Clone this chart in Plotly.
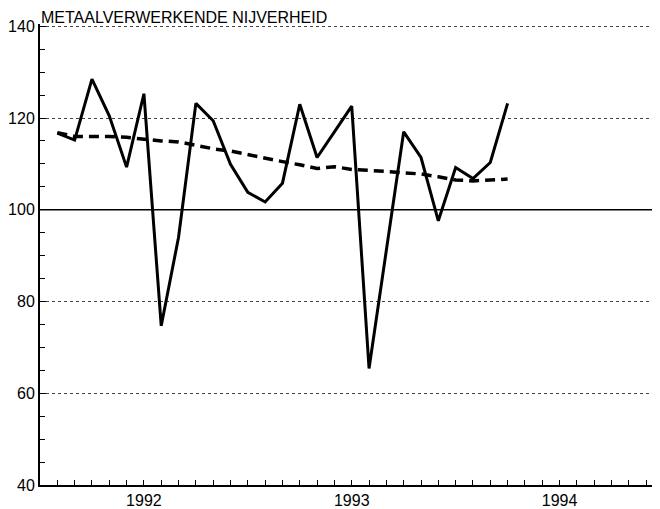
import plotly.graph_objects as go

# Months Jan 1992 .. Mar 1994 (points plotted at month end)
months = [f"{y}-{m:02d}" for y in (1992, 1993) for m in range(1, 13)] + ["1994-01", "1994-02", "1994-03"]
month_pos = list(range(1, len(months) + 1))  # months since 1 Jan 1992

production = [116.7, 115.2, 128.5, 120.5, 109.3, 125.3, 74.7, 94.0, 123.2, 119.4,
              109.9, 103.8, 101.7, 105.8, 123.0, 111.4, 117.0, 122.6, 65.4, 91.0,
              117.0, 111.4, 97.6, 109.2, 106.8, 110.3, 123.2]
trend = [116.8, 116.0, 116.0, 116.0, 115.8, 115.4, 115.0, 114.8, 114.0, 113.3,
         112.8, 112.0, 111.2, 110.5, 109.8, 109.0, 109.4, 108.8, 108.6, 108.3,
         108.0, 107.8, 107.2, 106.5, 106.3, 106.5, 106.7]

year_labels = ["1992", "1993", "1994"]
year_centers = [6, 18, 30]
year_bounds = [12, 24]
y_ticks = [40, 60, 80, 100, 120, 140]
baseline = 100
title = "METAALVERWERKENDE NIJVERHEID"

FONT = "Liberation Sans, Arial, sans-serif"

# page body has an 8px margin, so the figure is sized to fit the 660x509 window
W, H = 652, 501

fig = go.Figure()
fig.add_trace(go.Scatter(x=month_pos, y=trend, mode="lines",
                         line=dict(color="black", width=3.5, dash="10px,6px"),
                         showlegend=False, hoverinfo="skip"))
fig.add_trace(go.Scatter(x=month_pos, y=production, mode="lines",
                         line=dict(color="black", width=3),
                         showlegend=False, hoverinfo="skip"))
fig.add_hline(y=baseline, line=dict(color="black", width=1.5))

fig.update_layout(
    width=W, height=H,
    margin=dict(l=28, r=0, t=16, b=23),
    paper_bgcolor="white", plot_bgcolor="white",
    font=dict(family=FONT, size=16, color="black"),
    title=dict(text=title, x=0, xref="paper", xanchor="left",
               y=1 - 9.5 / H, yref="container", yanchor="middle",
               font=dict(family=FONT, size=16, color="black"), pad=dict(l=1)),
    xaxis=dict(range=[0, 35.8], tickvals=year_centers, ticktext=year_labels,
               ticks="", showgrid=False, zeroline=False,
               showline=True, linecolor="black", linewidth=2,
               tickfont=dict(size=16),
               minor=dict(tickvals=list(range(1, 36)), ticks="inside", ticklen=5,
                          tickcolor="black", tickwidth=1, showgrid=False)),
    xaxis2=dict(range=[0, 35.8], overlaying="x", anchor="y", side="bottom",
                tickvals=year_bounds, showticklabels=False,
                ticks="inside", ticklen=10, tickcolor="black", tickwidth=1,
                showgrid=True, gridcolor="#444", gridwidth=1, griddash="dot",
                zeroline=False, showline=False),
    yaxis=dict(range=[40, 140.5], tickvals=y_ticks, ticks="inside", ticklen=6,
               tickcolor="black", tickwidth=1,
               showgrid=True, gridcolor="#444", gridwidth=1, griddash="dot",
               zeroline=False, showline=True, linecolor="black", linewidth=2,
               tickfont=dict(size=16),
               minor=dict(dtick=5, ticks="inside", ticklen=5, tickcolor="black",
                          tickwidth=1, showgrid=False)),
)

fig.write_html("out.html")
